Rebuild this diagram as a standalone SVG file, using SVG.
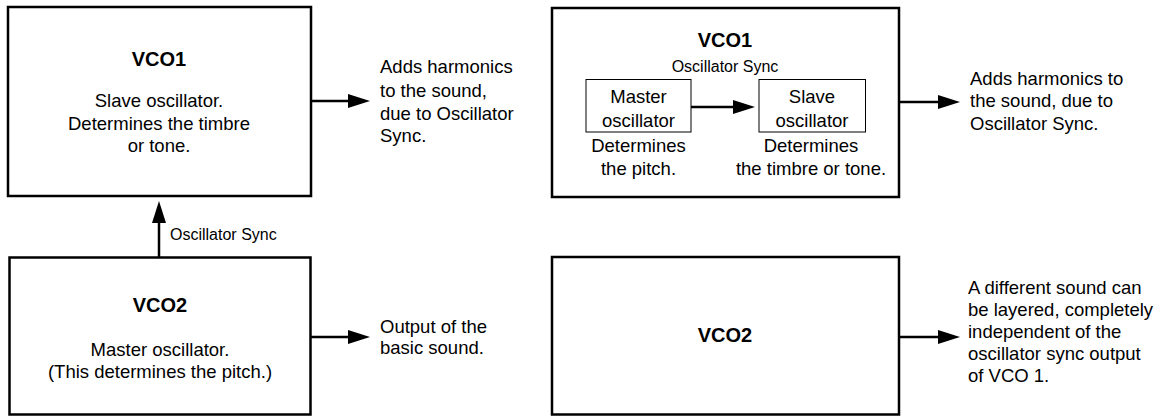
<svg xmlns="http://www.w3.org/2000/svg" width="1169" height="416" viewBox="0 0 1169 416">
<style>
.box{fill:#fff;stroke:#000;stroke-width:2.5}
.sbox{fill:#fff;stroke:#000;stroke-width:1}
.t{font-family:"Liberation Sans",Arial,sans-serif;font-size:18.5px;fill:#000}
.b{font-family:"Liberation Sans",Arial,sans-serif;font-size:20px;font-weight:bold;fill:#000}
.s{font-family:"Liberation Sans",Arial,sans-serif;font-size:16px;fill:#000}
.c{text-anchor:middle}
.ln{stroke:#000;stroke-width:2.5;fill:none;marker-end:url(#ah)}
</style>
<defs>
<marker id="ah" markerUnits="userSpaceOnUse" markerWidth="22" markerHeight="14" refX="0" refY="7" orient="auto" overflow="visible">
<path d="M0,0 L22,7 L0,14 z" fill="#000"/>
</marker>
</defs>
<g id="vco1-left">
<rect class="box" x="8" y="7" width="303" height="189"/>
<text class="b c" x="159" y="66">VCO1</text>
<text class="t c" x="159" y="107">Slave oscillator.</text>
<text class="t c" x="159" y="130">Determines the timbre</text>
<text class="t c" x="159" y="152">or tone.</text>
</g>
<g id="vco2-left">
<rect class="box" x="9.5" y="257.5" width="301" height="157"/>
<text class="b c" x="160" y="312">VCO2</text>
<text class="t c" x="160" y="356">Master oscillator.</text>
<text class="t c" x="160" y="378">(This determines the pitch.)</text>
</g>
<g id="vco1-right">
<rect class="box" x="552" y="8" width="347" height="189"/>
<text class="b c" x="725" y="47">VCO1</text>
<text class="s c" x="725" y="72">Oscillator Sync</text>
<g id="master-osc">
<rect class="sbox" x="586" y="79.5" width="105" height="52.5"/>
<text class="t c" x="638.5" y="103">Master</text>
<text class="t c" x="638.5" y="127">oscillator</text>
</g>
<g id="slave-osc">
<rect class="sbox" x="759" y="79.5" width="106.5" height="52.5"/>
<text class="t c" x="812" y="103">Slave</text>
<text class="t c" x="812" y="127">oscillator</text>
</g>
<text class="t c" x="638.5" y="152">Determines</text>
<text class="t c" x="638.5" y="175">the pitch.</text>
<text class="t c" x="811" y="152">Determines</text>
<text class="t c" x="811" y="175">the timbre or tone.</text>
</g>
<g id="vco2-right">
<rect class="box" x="552" y="257" width="347" height="157.5"/>
<text class="b c" x="725" y="342">VCO2</text>
</g>
<g id="labels">
<text class="t" x="380" y="73">Adds harmonics</text>
<text class="t" x="380" y="97">to the sound,</text>
<text class="t" x="380" y="120">due to Oscillator</text>
<text class="t" x="380" y="142">Sync.</text>
<text class="s" x="170" y="240">Oscillator Sync</text>
<text class="t" x="380" y="333">Output of the</text>
<text class="t" x="380" y="354">basic sound.</text>
<text class="t" x="970" y="85">Adds harmonics to</text>
<text class="t" x="970" y="107">the sound, due to</text>
<text class="t" x="970" y="130">Oscillator Sync.</text>
<text class="t" x="968" y="294">A different sound can</text>
<text class="t" x="968" y="316">be layered, completely</text>
<text class="t" x="968" y="338">independent of the</text>
<text class="t" x="968" y="360">oscillator sync output</text>
<text class="t" x="968" y="382">of VCO 1.</text>
</g>
<g id="connectors">
<line class="ln" x1="311" y1="101" x2="348" y2="101"/>
<line class="ln" x1="159" y1="257" x2="159" y2="223"/>
<line class="ln" x1="311" y1="337" x2="348" y2="337"/>
<line class="ln" x1="691" y1="107" x2="733" y2="107"/>
<line class="ln" x1="899" y1="102" x2="938" y2="102"/>
<line class="ln" x1="899" y1="337" x2="938" y2="337"/>
</g>
</svg>
